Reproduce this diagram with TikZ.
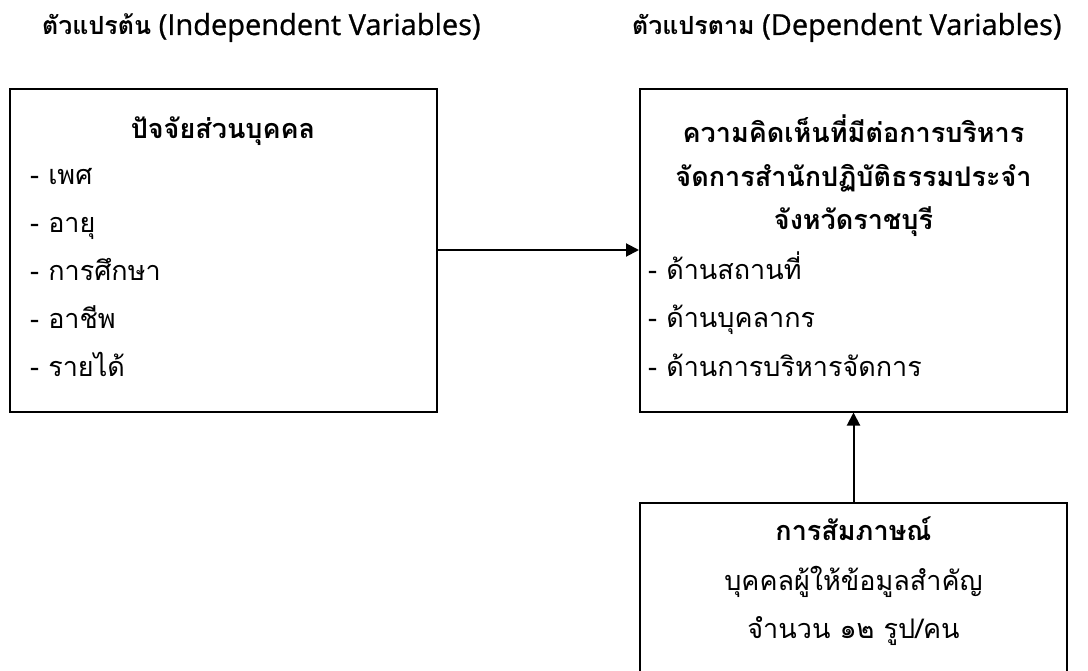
\documentclass[tikz,border=0pt]{standalone}
\usepackage{fontspec}
\setmainfont[Script=Thai]{Loma}
\newfontfamily\latinfont[FakeBold=0.8]{Open Sans}
\usepackage{tikz}
\usetikzlibrary{arrows.meta,shapes}

\begin{document}
\begin{tikzpicture}
	[
		x=1pt, y=-1pt,
		every node/.style = {inner sep=0pt, font=\fontsize{27}{32}\selectfont},
		box/.style = {draw, line width=2pt, rectangle, minimum width=427pt},
		head/.style = {anchor=base west, font=\fontsize{25}{30}\selectfont\bfseries},
		item/.style = {anchor=base west},
		title/.style = {anchor=base, font=\fontsize{27}{32}\selectfont\bfseries},
	]
  \useasboundingbox (0,0) rectangle (1088,671);

  % headings
  \node[head] (indep) at (42,35) {ตัวแปรต้น{\latinfont\mdseries\fontsize{29}{34}\selectfont\ (Independent Variables)}};
  \node[head] (dep) at (632,35) {ตัวแปรตาม{\latinfont\mdseries\fontsize{29}{34}\selectfont\ (Dependent Variables)}};

  % boxes
  \node[box, minimum height=322pt] (personal) at (223,250.5) {};
  \node[box, minimum height=322pt] (opinion) at (853.5,250.5) {};
  \node[box, minimum height=240pt] (interview) at (853.5,623) {};

  % personal factors
  \node[title] (ptitle) at (223,139) {ปัจจัยส่วนบุคคล};
  \node[item] (sex) at (30,185) {- เพศ};
  \node[item] (age) at (30,233) {- อายุ};
  \node[item] (edu) at (30,281) {- การศึกษา};
  \node[item] (job) at (30,329) {- อาชีพ};
  \node[item] (income) at (30,377) {- รายได้};

  % opinion
  \node[title] (otitle1) at (853.5,143) {ความคิดเห็นที่มีต่อการบริหาร};
  \node[title] (otitle2) at (853.5,187) {จัดการสำนักปฏิบัติธรรมประจำ};
  \node[title] (otitle3) at (853.5,230) {จังหวัดราชบุรี};
  \node[item] (place) at (648,280) {- ด้านสถานที่};
  \node[item] (staff) at (648,328) {- ด้านบุคลากร};
  \node[item] (manage) at (648,376) {- ด้านการบริหารจัดการ};

  % interview
  \node[title] (ititle) at (853.5,540) {การสัมภาษณ์};
  \node[anchor=base] (informant) at (853.5,590) {บุคคลผู้ให้ข้อมูลสำคัญ};
  \node[anchor=base] (amount) at (853.5,638) {จำนวน ๑๒ รูป/คน};

  \path[line width=2pt, -{Triangle[length=13pt,width=13pt]}]
  (personal.east |- 0,250) edge (opinion.west |- 0,250)
  (interview.north) edge (opinion.south);

\end{tikzpicture}
\end{document}
